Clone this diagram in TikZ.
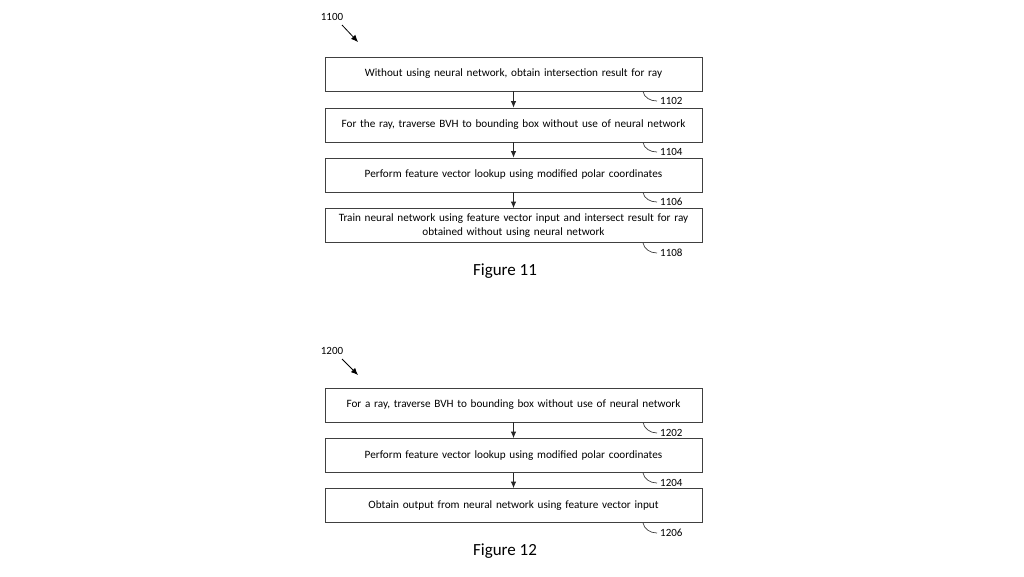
\documentclass[tikz,border=0pt]{standalone}
\usepackage{fontspec}
\setmainfont{Carlito}
\usetikzlibrary{arrows.meta}
\begin{document}
\begin{tikzpicture}[x=1pt,y=-1pt,
  stepbox/.style={draw=black!75,line width=0.8pt,minimum width=377pt,minimum height=34pt,
    inner sep=1pt,align=center,font=\fontsize{11.2}{13.2}\selectfont,text width=370pt},
  reflabel/.style={font=\fontsize{11}{13}\selectfont,inner sep=1pt,anchor=west},
  figlabel/.style={font=\fontsize{17}{20}\selectfont,inner sep=0pt},
  flow/.style={-{Latex[length=6.5pt,width=5.5pt]},line width=0.8pt,black!85},
  hook/.style={line width=0.7pt,black!75},
  pointer/.style={-{Latex[length=7pt,width=6pt]},line width=0.8pt,black}]
\useasboundingbox (0,0) rectangle (1024,576);
\fill[white] (0,0) rectangle (1024,576);

% Figure 11
\node[inner sep=0pt,font=\fontsize{11}{13}\selectfont] (n1100) at (332,17) {1100};
\coordinate (p1100) at (358,42);
\draw[pointer] (342,25) -- (p1100);

\node[stepbox] (b1102) at (513.5,74) {Without using neural network, obtain intersection result for ray};
\node[stepbox] (b1104) at (513.5,125) {For the ray, traverse BVH to bounding box without use of neural network};
\node[stepbox] (b1106) at (513.5,175) {Perform feature vector lookup using modified polar coordinates};
\node[stepbox] (b1108) at (513.5,225.5) {Train neural network using feature vector input and intersect result for ray\\obtained without using neural network};

\draw[flow] (b1102) -- (b1104);
\draw[flow] (b1104) -- (b1106);
\draw[flow] (b1106) -- (b1108);

\node[reflabel] (l1102) at (659,101) {1102};
\node[reflabel] (l1104) at (659,152) {1104};
\node[reflabel] (l1106) at (659,202) {1106};
\node[reflabel] (l1108) at (659,253) {1108};
\foreach \b/\l in {b1102/l1102,b1104/l1104,b1106/l1106,b1108/l1108}{
  \draw[hook] ([xshift=129.5pt]\b.south) .. controls +(1,6) and +(-7,0) .. ([xshift=-2pt]\l.west);
}

\node[figlabel] (f11) at (505,271) {Figure 11};

% Figure 12
\node[inner sep=0pt,font=\fontsize{11}{13}\selectfont] (n1200) at (332,351) {1200};
\coordinate (p1200) at (358,375);
\draw[pointer] (342,359) -- (p1200);

\node[stepbox] (b1202) at (513.5,405) {For a ray, traverse BVH to bounding box without use of neural network};
\node[stepbox] (b1204) at (513.5,455.5) {Perform feature vector lookup using modified polar coordinates};
\node[stepbox] (b1206) at (513.5,505.5) {Obtain output from neural network using feature vector input};

\draw[flow] (b1202) -- (b1204);
\draw[flow] (b1204) -- (b1206);

\node[reflabel] (l1202) at (659,433) {1202};
\node[reflabel] (l1204) at (659,483) {1204};
\node[reflabel] (l1206) at (659,533) {1206};
\foreach \b/\l in {b1202/l1202,b1204/l1204,b1206/l1206}{
  \draw[hook] ([xshift=129.5pt]\b.south) .. controls +(1,6) and +(-7,0) .. ([xshift=-2pt]\l.west);
}

\node[figlabel] (f12) at (505,551) {Figure 12};
\end{tikzpicture}
\end{document}
